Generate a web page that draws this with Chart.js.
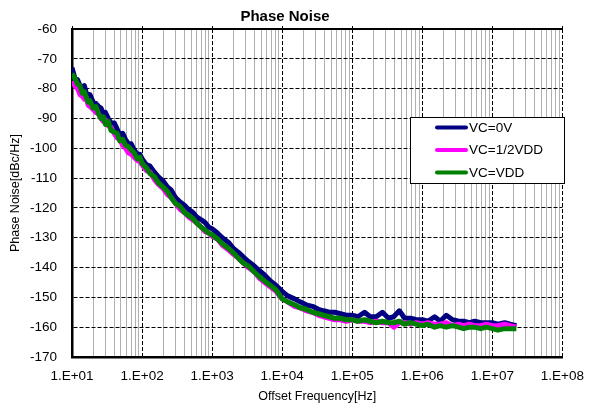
<!DOCTYPE html>
<html>
<head>
<meta charset="utf-8">
<title>Phase Noise</title>
<script src="https://cdn.jsdelivr.net/npm/chart.js@4.4.1/dist/chart.umd.min.js"></script>
<style>
  html, body { margin: 0; padding: 0; background: #fff; }
  canvas { display: block; }
</style>
</head>
<body>
<canvas id="phaseChart" width="595" height="411"></canvas>
<script>
// offset frequencies [Hz], one row per decade
const offsetFreq = [
    10, 11, 12, 13, 14, 15, 16, 17, 18, 20, 22, 24, 26, 28, 30, 33, 36, 40, 44, 48, 53, 58, 64, 70, 77, 85, 93,
    100, 115, 130, 150, 170, 200, 230, 260, 300, 350, 400, 460, 530, 600, 700, 800, 900,
    1e3, 1.2e3, 1.4e3, 1.7e3, 2e3, 2.4e3, 2.8e3, 3.3e3, 4e3, 4.7e3, 5.6e3, 6.8e3, 8.2e3,
    1e4, 1.2e4, 1.5e4, 1.8e4, 2.2e4, 2.7e4, 3.3e4, 3.9e4, 4.7e4, 5.6e4, 6.8e4, 8.2e4,
    1e5, 1.2e5, 1.5e5, 1.8e5, 2.2e5, 2.7e5, 3.3e5, 3.9e5, 4.7e5, 5.6e5, 6.8e5, 8.2e5,
    1e6, 1.2e6, 1.5e6, 1.8e6, 2.2e6, 2.7e6, 3.3e6, 3.9e6, 4.7e6, 5.6e6, 6.8e6, 8.2e6,
    1e7, 1.2e7, 1.5e7, 1.8e7, 2.2e7
];

// phase noise [dBc/Hz]
const vc0 = [
    -73.0, -76.5, -77.0, -79.0, -79.5, -79.0, -81.5, -82.0, -82.0, -84.5, -85.0, -86.0, -86.5, -88.5, -88.0, -90.0, -91.5, -91.5, -93.5, -95.5, -95.0, -97.0, -98.5, -98.5, -100.5, -102.0, -102.0,
    -103.5, -105.5, -106.0, -108.0, -109.5, -111.0, -113.0, -114.0, -116.5, -118.0, -119.0, -120.5, -121.5, -123.0, -124.0, -125.0, -126.5,
    -127.0, -128.5, -130.0, -131.5, -133.5, -135.0, -136.5, -138.0, -139.5, -141.0, -142.5, -144.5, -146.0,
    -148.0, -149.5, -150.5, -151.5, -152.5, -153.0, -154.0, -154.5, -155.0, -155.0, -155.5, -156.0,
    -156.0, -156.5, -155.0, -156.5, -156.5, -155.0, -157.0, -156.5, -154.5, -157.0, -157.0, -157.5,
    -157.5, -158.0, -156.5, -158.0, -156.0, -157.5, -158.0, -158.0, -158.5, -158.0, -158.5, -158.5,
    -158.5, -159.0, -158.5, -159.0, -159.5
];

const vcHalf = [
    -77.5, -79.0, -80.0, -82.0, -82.5, -83.5, -83.0, -85.5, -86.0, -87.0, -88.0, -88.5, -90.0, -91.0, -90.5, -92.5, -93.0, -95.0, -96.5, -97.0, -99.0, -100.0, -101.5, -102.0, -103.0, -104.0, -104.5,
    -105.5, -107.5, -108.0, -110.5, -112.0, -113.5, -115.5, -116.5, -118.5, -120.5, -121.5, -123.0, -124.0, -125.0, -126.5, -128.0, -128.5,
    -129.5, -130.5, -132.5, -134.0, -135.5, -137.0, -138.5, -140.0, -141.5, -143.5, -145.0, -146.5, -148.0,
    -150.5, -151.5, -153.0, -153.5, -154.5, -155.0, -156.0, -156.5, -157.0, -157.5, -157.5, -158.0,
    -157.5, -158.0, -158.0, -158.5, -158.0, -158.5, -158.5, -160.0, -158.5, -158.5, -159.0, -158.5,
    -159.0, -158.5, -159.0, -159.0, -158.5, -159.5, -159.0, -159.5, -159.0, -159.5, -159.5, -159.0,
    -159.5, -159.5, -159.0, -159.5, -160.0
];

const vcVdd = [
    -75.0, -76.5, -78.5, -79.0, -81.5, -81.0, -83.0, -84.5, -84.0, -86.5, -86.0, -88.5, -90.0, -89.5, -92.0, -91.0, -94.0, -94.5, -95.0, -97.5, -97.0, -99.0, -99.5, -100.5, -101.5, -103.5, -103.0,
    -105.0, -106.5, -108.5, -109.5, -111.5, -113.0, -114.5, -116.5, -118.5, -119.5, -121.5, -122.5, -123.5, -125.0, -126.5, -127.5, -128.5,
    -129.0, -130.5, -132.0, -133.5, -135.0, -137.0, -138.5, -139.5, -141.5, -143.0, -144.5, -146.0, -147.5,
    -150.5, -151.5, -152.5, -153.5, -154.0, -155.0, -155.5, -156.0, -156.5, -157.0, -157.0, -157.5,
    -157.5, -158.0, -157.5, -158.0, -158.5, -158.0, -158.5, -158.5, -158.0, -159.0, -158.5, -159.0,
    -159.5, -159.0, -160.0, -159.5, -160.0, -159.5, -160.0, -160.5, -160.0, -160.0, -160.5, -160.0,
    -160.5, -161.0, -160.5, -160.5, -160.5
];

const seriesLabels = ['VC=0V', 'VC=1/2VDD', 'VC=VDD'];
const seriesColors = ['#000080', '#ff00ff', '#008000'];
const xTickLabels = ['1.E+01', '1.E+02', '1.E+03', '1.E+04', '1.E+05', '1.E+06', '1.E+07', '1.E+08'];
const yMin = -170;
const yMax = -60;
const yStep = 10;

const FONT = 'Liberation Sans, Arial, sans-serif';

const decades = xTickLabels.map(s => Number(s.replace('.E', 'e')));
const minors = [];
decades.slice(0, -1).forEach(d => {
    for (let m = 2; m <= 9; m++) minors.push(d * m);
});

function toPoints(values) {
    return offsetFreq.map((f, i) => ({ x: f, y: values[i] }));
}

// legend box inside the plot, like the original
const legendBox = {
    id: 'legendBox',
    afterDatasetsDraw(chart) {
        const ctx = chart.ctx;
        ctx.save();
        ctx.fillStyle = '#fff';
        ctx.fillRect(410.5, 117.5, 154, 66);
        ctx.strokeStyle = '#000';
        ctx.lineWidth = 1;
        ctx.strokeRect(410.5, 117.5, 154, 66);
        ctx.font = '13.5px ' + FONT;
        ctx.textBaseline = 'middle';
        ctx.lineCap = 'round';
        chart.data.datasets.forEach((ds, i) => {
            const y = 127.5 + i * 22.5;
            ctx.strokeStyle = ds.borderColor;
            ctx.lineWidth = 4;
            ctx.beginPath();
            ctx.moveTo(437, y);
            ctx.lineTo(466, y);
            ctx.stroke();
            ctx.fillStyle = '#000';
            ctx.fillText(ds.label, 469, y + 0.5);
        });
        ctx.restore();
    }
};

const ctx = document.getElementById('phaseChart').getContext('2d');
new Chart(ctx, {
    type: 'line',
    data: {
        datasets: [vc0, vcHalf, vcVdd].map((vals, i) => ({
            label: seriesLabels[i],
            data: toPoints(vals),
            borderColor: seriesColors[i],
            backgroundColor: seriesColors[i],
            borderWidth: 5,
            borderJoinStyle: 'round',
            pointRadius: 0,
            tension: 0,
            fill: false,
            order: 3 - i,
            xAxisID: 'x',
            yAxisID: 'y'
        }))
    },
    options: {
        responsive: false,
        animation: false,
        devicePixelRatio: 1,
        layout: { padding: { left: 0, right: 25, top: 0, bottom: 0 } },
        plugins: {
            legend: { display: false },
            tooltip: { enabled: false },
            title: {
                display: true,
                text: 'Phase Noise',
                color: '#000',
                font: { family: FONT, size: 15, weight: 'bold' },
                padding: { top: 8, bottom: 0 }
            }
        },
        scales: {
            x: {
                type: 'logarithmic',
                position: 'bottom',
                min: 10,
                max: 1e8,
                afterBuildTicks: s => { s.ticks = decades.map(v => ({ value: v })); },
                afterFit: s => { s.height = 54; },
                ticks: {
                    autoSkip: false,
                    maxRotation: 0,
                    padding: 11,
                    color: '#000',
                    font: { family: FONT, size: 13.5 },
                    callback: (v, i) => xTickLabels[i]
                },
                grid: { color: '#000', lineWidth: 1, drawTicks: false },
                border: { color: '#000', width: 2.5, dash: [4, 2] },
                title: {
                    display: true,
                    text: 'Offset Frequency[Hz]',
                    color: '#000',
                    font: { family: FONT, size: 12.5 },
                    padding: { top: 0, bottom: 7 }
                }
            },
            xMinor: {
                type: 'logarithmic',
                position: 'top',
                min: 10,
                max: 1e8,
                afterBuildTicks: s => { s.ticks = minors.map(v => ({ value: v })); },
                ticks: { display: false },
                grid: { color: '#b0b0b0', lineWidth: 1, drawTicks: false },
                border: { display: false }
            },
            xTop: {
                type: 'logarithmic',
                position: 'top',
                min: 10,
                max: 1e8,
                afterBuildTicks: s => { s.ticks = decades.map(v => ({ value: v })); },
                ticks: { display: false },
                grid: { drawOnChartArea: false, drawTicks: true, tickLength: 3, tickColor: '#000' },
                border: { color: '#000', width: 2 }
            },
            y: {
                type: 'linear',
                min: yMin,
                max: yMax,
                afterFit: s => { s.width = 72; },
                ticks: {
                    stepSize: yStep,
                    padding: 15,
                    color: '#000',
                    font: { family: FONT, size: 13.5 }
                },
                grid: { color: '#000', lineWidth: 1, drawTicks: false },
                border: { color: '#000', width: 2.5, dash: [4, 2] },
                title: {
                    display: true,
                    text: 'Phase Noise[dBc/Hz]',
                    color: '#000',
                    font: { family: FONT, size: 12.5 },
                    padding: { top: 8, bottom: 0 }
                }
            }
        }
    },
    plugins: [legendBox]
});
</script>
</body>
</html>
